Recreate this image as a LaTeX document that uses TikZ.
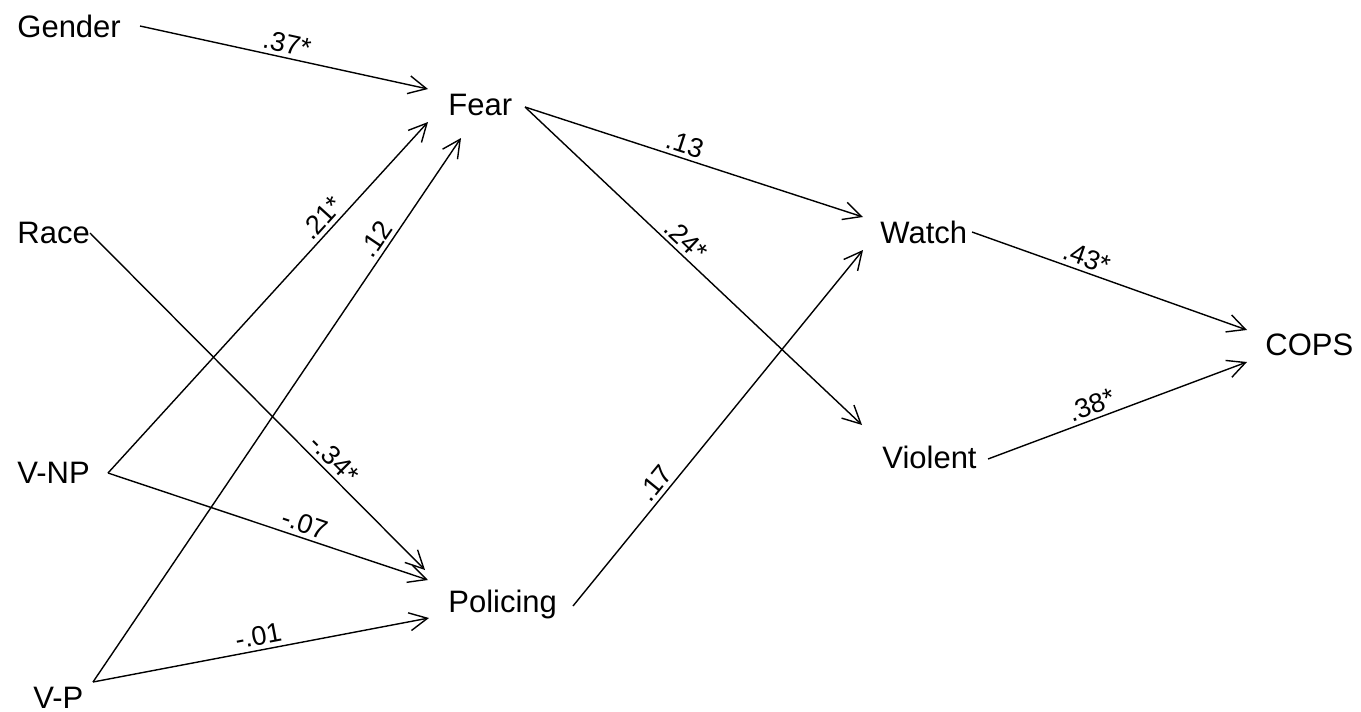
\documentclass[tikz,border=0pt]{standalone}
\usepackage{fontspec}
\setmainfont{Liberation Sans}
\usetikzlibrary{arrows.meta}
\begin{document}
\begin{tikzpicture}[x=0.5pt,y=-0.5pt,
  var/.style={anchor=base west,inner sep=0pt,font=\fontsize{15.5}{18}\selectfont},
  path/.style={line width=0.7pt,-{Straight Barb[length=9pt,width=9pt,line width=0.7pt]}},
  coef/.style={sloped,above,inner sep=2pt,font=\fontsize{13.5}{16}\selectfont}]
\useasboundingbox (0,0) rectangle (1361,712);
\fill[white] (0,0) rectangle (1361,712);
% variables
\node[var] (gender) at (17,37) {Gender};
\node[var] (fear) at (448,115) {Fear};
\node[var] (race) at (17,243) {Race};
\node[var] (vnp) at (17,483) {V-NP};
\node[var] (vp) at (33,708) {V-P};
\node[var] (policing) at (448,612) {Policing};
\node[var] (watch) at (880,243) {Watch};
\node[var] (violent) at (882,468) {Violent};
\node[var] (cops) at (1265,355) {COPS};
% connector ends
\coordinate (gO) at (140,26);
\coordinate (fIn1) at (428,89);
\coordinate (raceO) at (90,233);
\coordinate (polIn1) at (425,570);
\coordinate (vnpO) at (108,473);
\coordinate (fIn2) at (428,122);
\coordinate (polIn2) at (428,580);
\coordinate (vpO) at (93,682);
\coordinate (fIn3) at (461,138);
\coordinate (polIn3) at (429,618);
\coordinate (fearO) at (525,107);
\coordinate (watchIn1) at (863,217);
\coordinate (violIn) at (862,425);
\coordinate (polO) at (573,606);
\coordinate (watchIn2) at (863,250);
\coordinate (watchO) at (972,232);
\coordinate (copsIn1) at (1247,330);
\coordinate (violO) at (988,459);
\coordinate (copsIn2) at (1247,362);
% paths
\draw[path] (gO) -- node[coef,pos=0.5] {.37*} (fIn1);
\draw[path] (raceO) -- node[coef,pos=0.7] {-.34*} (polIn1);
\draw[path] (vnpO) -- node[coef,pos=0.7] {.21*} (fIn2);
\draw[path] (vnpO) -- node[coef,pos=0.6] {-.07} (polIn2);
\draw[path] (vpO) -- node[coef,pos=0.8] {.12} (fIn3);
\draw[path] (vpO) -- node[coef,pos=0.5] {-.01} (polIn3);
\draw[path] (fearO) -- node[coef,pos=0.46] {.13} (watchIn1);
\draw[path] (fearO) -- node[coef,pos=0.45] {.24*} (violIn);
\draw[path] (polO) -- node[coef,pos=0.32] {.17} (watchIn2);
\draw[path] (watchO) -- node[coef,pos=0.4] {.43*} (copsIn1);
\draw[path] (violO) -- node[coef,pos=0.42] {.38*} (copsIn2);
\end{tikzpicture}
\end{document}
